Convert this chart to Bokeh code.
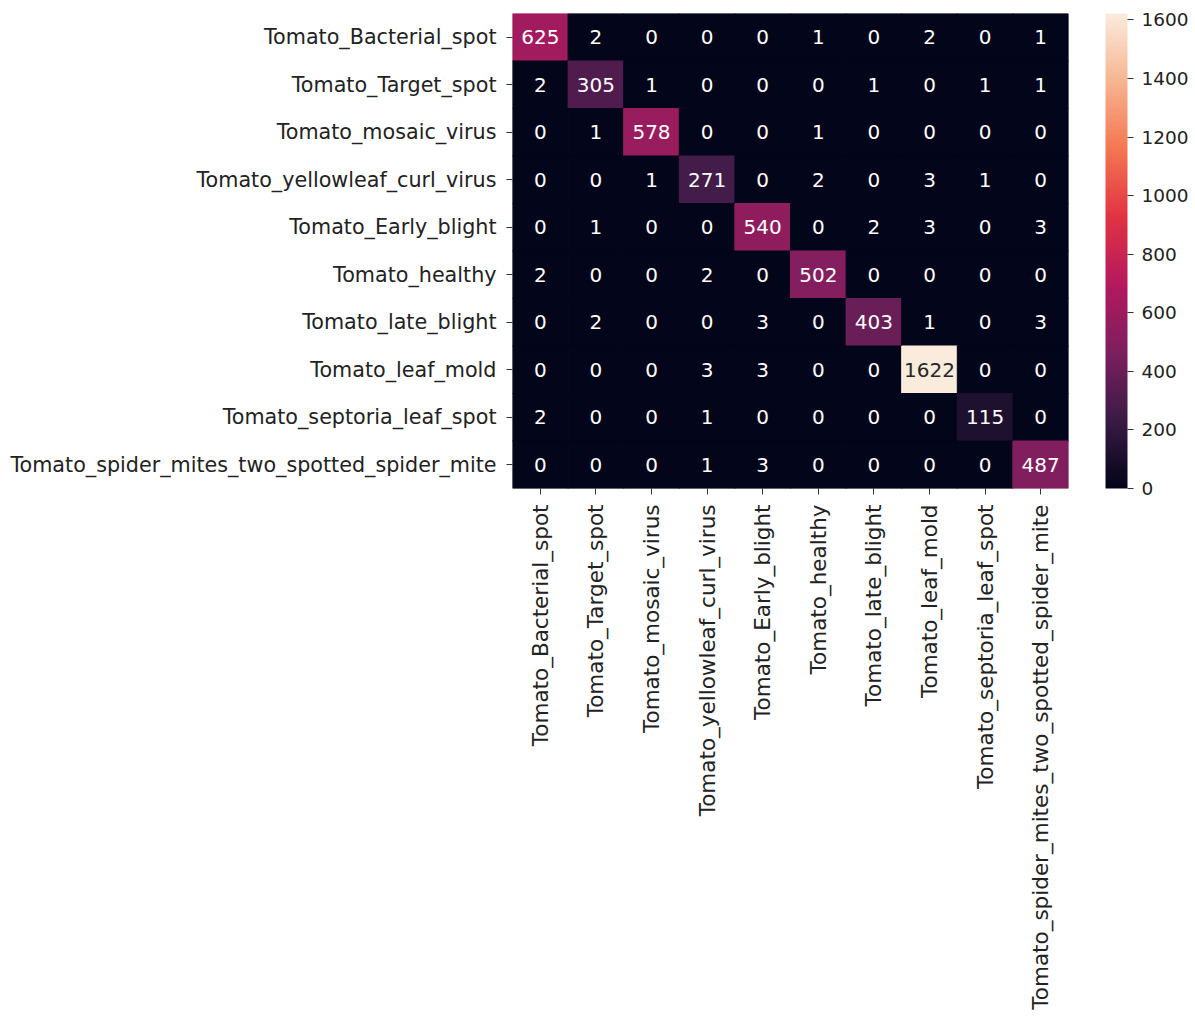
import numpy as np
from bokeh.plotting import figure
from bokeh.models import ColumnDataSource, LinearColorMapper, ColorBar, FixedTicker
from bokeh.transform import transform
from bokeh.core.properties import value
from bokeh.embed import file_html
from bokeh.resources import INLINE

classes = [
    "Tomato_Bacterial_spot",
    "Tomato_Target_spot",
    "Tomato_mosaic_virus",
    "Tomato_yellowleaf_curl_virus",
    "Tomato_Early_blight",
    "Tomato_healthy",
    "Tomato_late_blight",
    "Tomato_leaf_mold",
    "Tomato_septoria_leaf_spot",
    "Tomato_spider_mites_two_spotted_spider_mite",
]

# confusion matrix, one list per true class (columns = predicted class)
row_bacterial_spot = [625, 2, 0, 0, 0, 1, 0, 2, 0, 1]
row_target_spot = [2, 305, 1, 0, 0, 0, 1, 0, 1, 1]
row_mosaic_virus = [0, 1, 578, 0, 0, 1, 0, 0, 0, 0]
row_yellowleaf_curl = [0, 0, 1, 271, 0, 2, 0, 3, 1, 0]
row_early_blight = [0, 1, 0, 0, 540, 0, 2, 3, 0, 3]
row_healthy = [2, 0, 0, 2, 0, 502, 0, 0, 0, 0]
row_late_blight = [0, 2, 0, 0, 3, 0, 403, 1, 0, 3]
row_leaf_mold = [0, 0, 0, 3, 3, 0, 0, 1622, 0, 0]
row_septoria = [2, 0, 0, 1, 0, 0, 0, 0, 115, 0]
row_spider_mites = [0, 0, 0, 1, 3, 0, 0, 0, 0, 487]

colorbar_ticks = [0, 200, 400, 600, 800, 1000, 1200, 1400, 1600]

rows = [row_bacterial_spot, row_target_spot, row_mosaic_virus, row_yellowleaf_curl,
        row_early_blight, row_healthy, row_late_blight, row_leaf_mold,
        row_septoria, row_spider_mites]

# "rocket" style sequential palette, interpolated from anchor colours
anchors = ["#03051A", "#3A1B45", "#7C1F5E", "#B4195F", "#E13342",
           "#F37651", "#F6B48F", "#FAEBDD"]
anc = np.array([[int(h[i:i + 2], 16) for i in (1, 3, 5)] for h in anchors], float)
pos = np.linspace(0, 1, len(anchors))
grid = np.linspace(0, 1, 256)
rgb = np.stack([np.interp(grid, pos, anc[:, k]) for k in range(3)], axis=1)
rocket = ["#%02x%02x%02x" % tuple(int(round(c)) for c in row) for row in rgb]

vmax = max(max(r) for r in rows)
mapper = LinearColorMapper(palette=rocket, low=0, high=vmax)

xs, ys, vals, labels, tcolors = [], [], [], [], []
for i, r in enumerate(rows):
    for j, v in enumerate(r):
        xs.append(classes[j])
        ys.append(classes[i])
        vals.append(v)
        labels.append(str(v))
        tcolors.append("#262626" if v / vmax > 0.6 else "#ffffff")

src = ColumnDataSource(dict(x=xs, y=ys, v=vals, label=labels, tc=tcolors))

p = figure(
    x_range=classes, y_range=list(reversed(classes)),
    frame_width=556, frame_height=475,
    min_border_left=512, min_border_top=13, min_border_right=127, min_border_bottom=529,
    output_backend="svg", toolbar_location=None,
)
p.rect(x="x", y="y", width=1, height=1, source=src,
       fill_color=transform("v", mapper), line_color=transform("v", mapper),
       line_width=1)
p.text(x="x", y="y", text="label", source=src, text_color="tc",
       text_align="center", text_baseline="middle",
       text_font=value("DejaVu Sans"), text_font_size="20px")

p.outline_line_color = None
p.grid.grid_line_color = None
for ax in (p.xaxis, p.yaxis):
    ax.axis_line_color = None
    ax.major_tick_in = 0
    ax.major_tick_out = 6
    ax.major_tick_line_color = "#333333"
    ax.major_label_text_font = "DejaVu Sans"
    ax.major_label_text_color = "#222222"
    ax.major_label_standoff = 10
p.yaxis.major_label_text_font_size = "20.7px"
p.xaxis.major_label_text_font_size = "21.5px"
p.xaxis.major_label_orientation = np.pi / 2

# colour scale drawn beside the matrix, offset from the frame's lower-left corner
cb = ColorBar(
    color_mapper=mapper, ticker=FixedTicker(ticks=colorbar_ticks),
    width=22, height=475, padding=0, margin=0, location=(593, 0),
    major_tick_in=0, major_tick_out=6, major_tick_line_color="#333333",
    minor_tick_line_color=None, bar_line_color=None, border_line_color=None,
    background_fill_alpha=0, label_standoff=8,
    major_label_text_font="DejaVu Sans", major_label_text_font_size="18.5px",
    major_label_text_color="#222222",
)
p.add_layout(cb, "center")

open("out.html", "w").write(file_html(p, INLINE))
